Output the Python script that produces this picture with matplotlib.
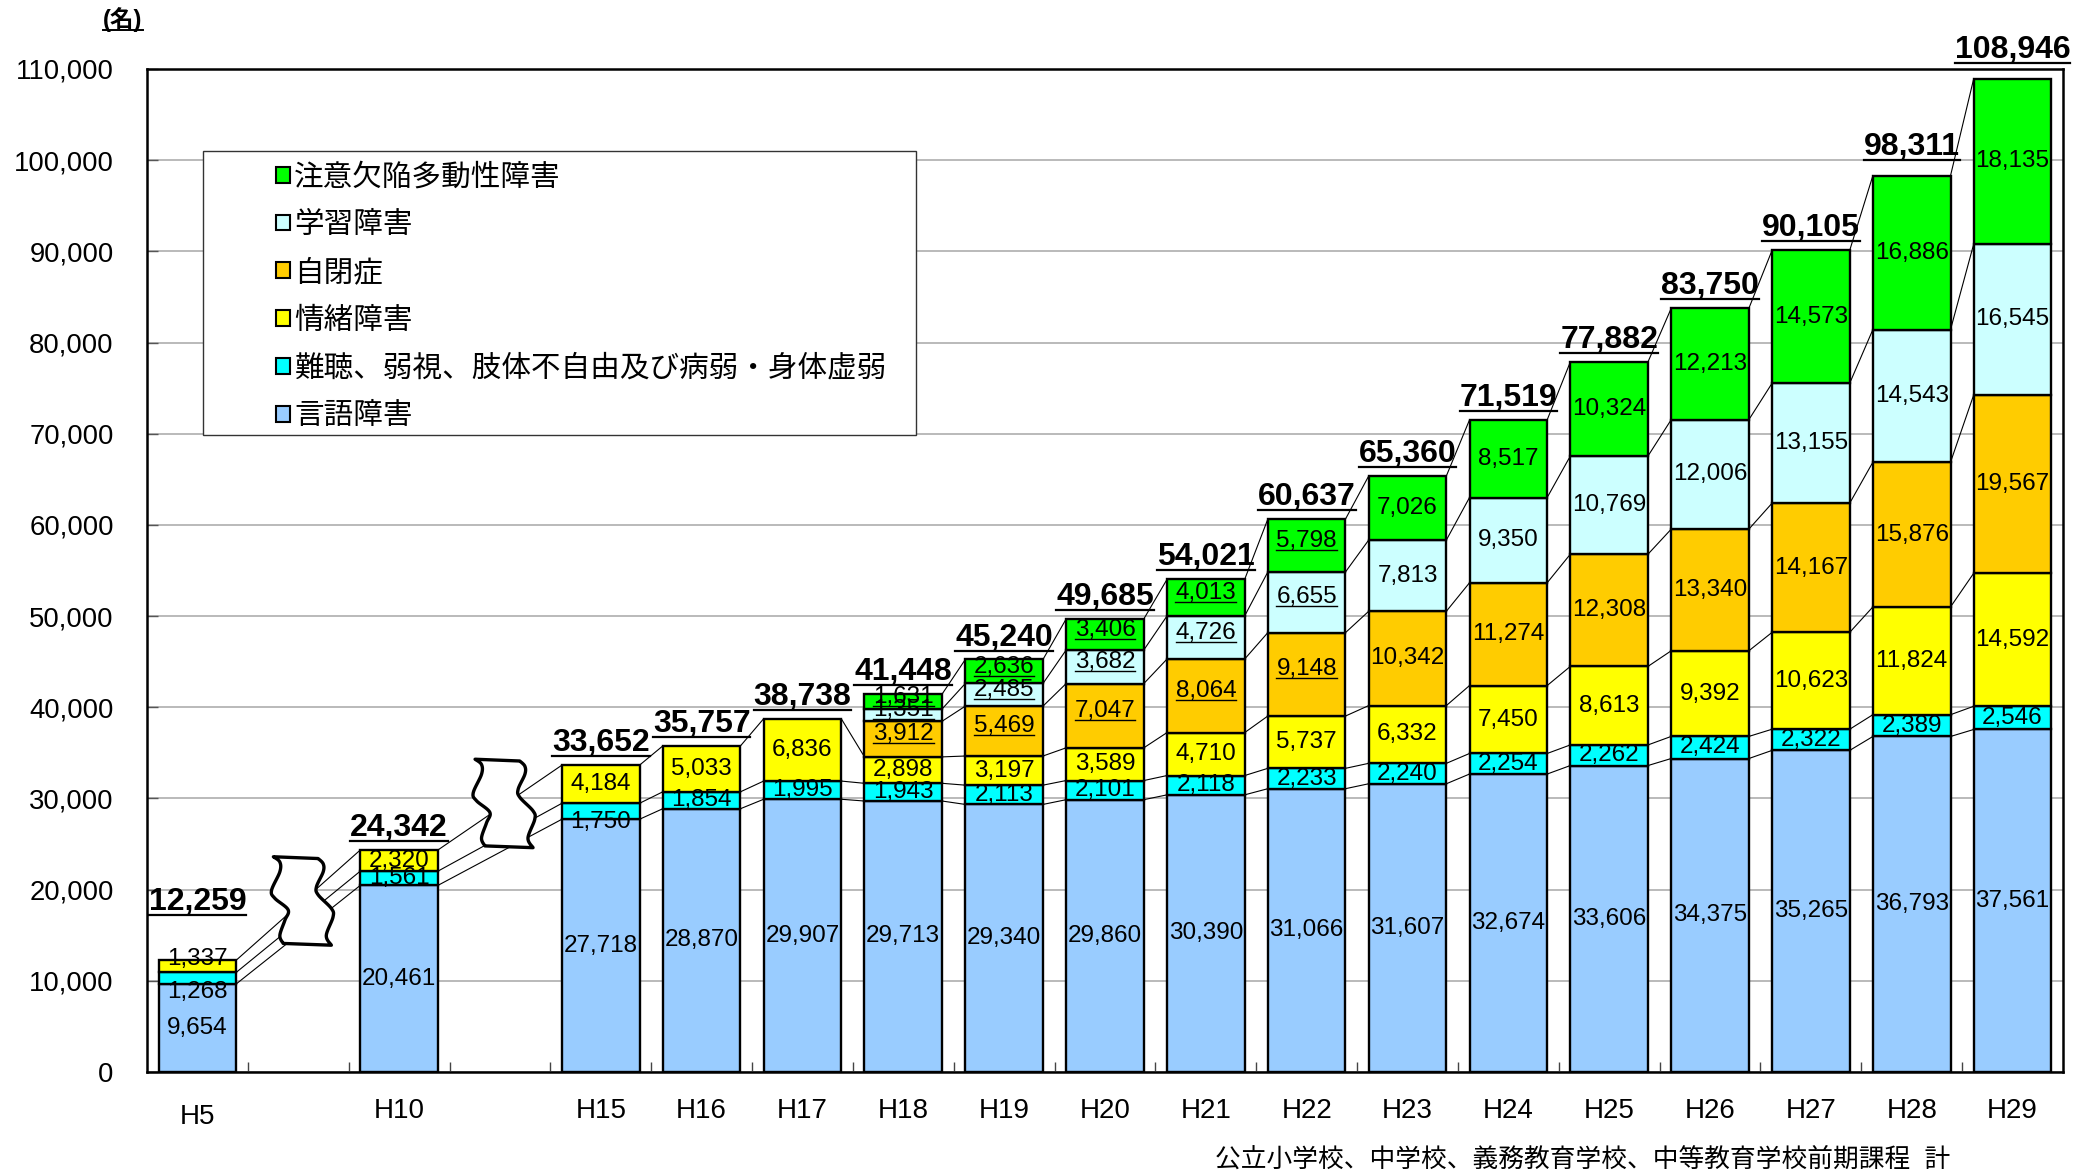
import numpy as np
import matplotlib.pyplot as plt
from matplotlib.patches import Patch, Rectangle, Polygon
from matplotlib.lines import Line2D
from matplotlib.transforms import ScaledTranslation

plt.rcParams['font.family'] = ['Liberation Sans', 'Noto Sans CJK JP', 'DejaVu Sans']

# data (persons, public elementary / junior high etc.)
years = ["H5", "H10", "H15", "H16", "H17", "H18", "H19", "H20", "H21",
         "H22", "H23", "H24", "H25", "H26", "H27", "H28", "H29"]
categories = ["言語障害", "難聴、弱視、肢体不自由及び病弱・身体虚弱", "情緒障害",
              "自閉症", "学習障害", "注意欠陥多動性障害"]
speech = [9654, 20461, 27718, 28870, 29907, 29713, 29340, 29860, 30390,
          31066, 31607, 32674, 33606, 34375, 35265, 36793, 37561]
physical = [1268, 1561, 1750, 1854, 1995, 1943, 2113, 2101, 2118,
            2233, 2240, 2254, 2262, 2424, 2322, 2389, 2546]
emotional = [1337, 2320, 4184, 5033, 6836, 2898, 3197, 3589, 4710,
             5737, 6332, 7450, 8613, 9392, 10623, 11824, 14592]
autism = [0, 0, 0, 0, 0, 3912, 5469, 7047, 8064,
          9148, 10342, 11274, 12308, 13340, 14167, 15876, 19567]
ld = [0, 0, 0, 0, 0, 1351, 2485, 3682, 4726,
      6655, 7813, 9350, 10769, 12006, 13155, 14543, 16545]
adhd = [0, 0, 0, 0, 0, 1631, 2636, 3406, 4013,
        5798, 7026, 8517, 10324, 12213, 14573, 16886, 18135]
colors = ["#99CCFF", "#00FFFF", "#FFFF00", "#FFCC00", "#CCFFFF", "#00FF00"]
break_after = ["H5", "H10"]
underlined_years = ["H18", "H19", "H20", "H21", "H22"]
yticks = list(range(0, 110001, 10000))

series = np.array([speech, physical, emotional, autism, ld, adhd])
totals = series.sum(axis=0)
tops = np.cumsum(series, axis=0)

# x positions: one empty slot after each break
x = []
pos = 0
for yr in years:
    x.append(pos)
    pos += 2 if yr in break_after else 1
x = np.array(x, dtype=float)

fig = plt.figure(figsize=(20.91, 11.75), dpi=100)
ax = fig.add_axes([0.0703, 0.0877, 0.9163, 0.8536])

w = 0.77
underline_these = []
for k in range(len(categories)):
    bottom = tops[k] - series[k]
    for i in range(len(years)):
        v = series[k][i]
        if v == 0:
            continue
        ax.bar(x[i], v, w, bottom=bottom[i], color=colors[k],
               edgecolor='black', linewidth=1.7, zorder=3)
        dy = 0
        ul = years[i] in underlined_years and k >= 3
        if ul:
            dy = 3.5
        if years[i] == "H5" and k == 1:
            dy = -10
        if years[i] == "H5" and k == 2:
            dy = 5.5
        if years[i] == "H15" and k == 1:
            dy = -8
        t = ax.annotate(f"{v:,}", (x[i], bottom[i] + v / 2), xytext=(0, dy),
                        textcoords='offset points', ha='center', va='center',
                        fontsize=17.5, zorder=6)
        if ul:
            underline_these.append((t, 1.0))

# series lines between neighbouring bars
for k in range(len(categories)):
    for i in range(len(years) - 1):
        if series[k][i] == 0 or series[k][i + 1] == 0:
            continue
        ax.plot([x[i] + w / 2, x[i + 1] - w / 2], [tops[k][i], tops[k][i + 1]],
                color='black', lw=0.8, zorder=2)

# totals
for i in range(len(years)):
    off = 31 if i == 0 else 5
    if years[i] in ("H28", "H29"):
        off = 10
    t = ax.annotate(f"{totals[i]:,}", (x[i], totals[i]), xytext=(0, off),
                    textcoords='offset points', ha='center', va='bottom',
                    fontsize=23, fontweight='bold', zorder=6)
    underline_these.append((t, 1.6))


def smooth(pts, n=10):
    pts = np.asarray(pts, float)
    p = np.vstack([pts[0], pts, pts[-1]])
    out = []
    for j in range(1, len(p) - 2):
        p0, p1, p2, p3 = p[j - 1], p[j], p[j + 1], p[j + 2]
        for s in np.linspace(0, 1, n, endpoint=False):
            out.append(0.5 * (2 * p1 + (-p0 + p2) * s
                              + (2 * p0 - 5 * p1 + 4 * p2 - p3) * s * s
                              + (-p0 + 3 * p1 - 3 * p2 + p3) * s ** 3))
    out.append(p[-2])
    return np.array(out)


# wavy break mark shape (unit box)
left_edge = [(0.03, 1.0), (0.135, 0.94), (0.135, 0.83), (0.0, 0.62), (0.054, 0.53),
             (0.27, 0.40), (0.216, 0.28), (0.135, 0.11), (0.19, 0.02)]
right_edge = [(0.757, 0.98), (0.84, 0.92), (0.84, 0.83), (0.73, 0.66), (0.757, 0.57),
              (0.973, 0.415), (1.0, 0.32), (0.89, 0.11), (0.973, 0.0)]
shape = np.vstack([smooth(left_edge), smooth(right_edge)[::-1]])

for yr in break_after:
    i = years.index(yr)
    yc = (totals[i] + totals[i + 1]) / 2 + 450
    h = 9700
    bw = 0.61
    xs = x[i] + 1.04 - bw / 2 + shape[:, 0] * bw
    ys = yc - h / 2 + shape[:, 1] * h
    ax.add_patch(Polygon(np.column_stack([xs, ys]), closed=True, facecolor='white',
                         edgecolor='black', lw=2.4, joinstyle='round', zorder=4))

ax.set_xlim(-0.5, pos - 0.5)
ax.set_ylim(0, 110000)
ax.set_yticks(yticks)
ax.set_yticklabels([f"{v:,}" for v in yticks])
ax.set_xticks(x)
ax.set_xticklabels(years)
ax.set_xticks(np.arange(0.5, pos - 1, 1.0), minor=True)
ax.tick_params(axis='x', which='major', length=0, labelsize=20, pad=19)
ax.tick_params(axis='x', which='minor', direction='in', length=7, width=1, color='#444444')
ax.tick_params(axis='y', direction='in', length=8, width=1, color='#555555',
               labelsize=19.8, pad=24)
ax.yaxis.grid(True, color='#b4b4b4', lw=1.3)
ax.set_axisbelow(True)
for s in ax.spines.values():
    s.set_linewidth(1.8)
    s.set_color('black')
# first category label sits a little lower
lab0 = ax.get_xticklabels()[0]
lab0.set_transform(lab0.get_transform() + ScaledTranslation(0, -4 / 72, fig.dpi_scale_trans))

# legend box
ax.add_patch(Rectangle((0.0292, 0.6351), 0.3722, 0.2832, transform=ax.transAxes,
                       facecolor='white', edgecolor='#333333', lw=1.0, zorder=4))
handles = [Patch(facecolor=c, edgecolor='black', linewidth=1.5) for c in colors][::-1]
leg = ax.legend(handles, categories[::-1], loc='upper left', bbox_to_anchor=(0.0675, 0.906),
                frameon=False, fontsize=21.3, handlelength=0.45, handleheight=0.45,
                handletextpad=0.15, labelspacing=0.67, borderpad=0, borderaxespad=0)
leg.set_zorder(5)

unit = fig.text(0.0588, 0.983, "(名)", ha='center', va='center', fontsize=17, fontweight='bold')
underline_these.append((unit, 1.4))
fig.text(0.9326, 0.0128, "公立小学校、中学校、義務教育学校、中等教育学校前期課程  計",
         ha='right', va='center', fontsize=18.5)

# underlines
fig.canvas.draw()
renderer = fig.canvas.get_renderer()
W, H = fig.canvas.get_width_height()
for t, lw in underline_these:
    bb = t.get_window_extent(renderer)
    yy = (bb.y0 + 2) / H
    fig.add_artist(Line2D([bb.x0 / W, bb.x1 / W], [yy, yy], color='black', lw=lw, zorder=7))

fig.savefig("out.png", dpi=100)
